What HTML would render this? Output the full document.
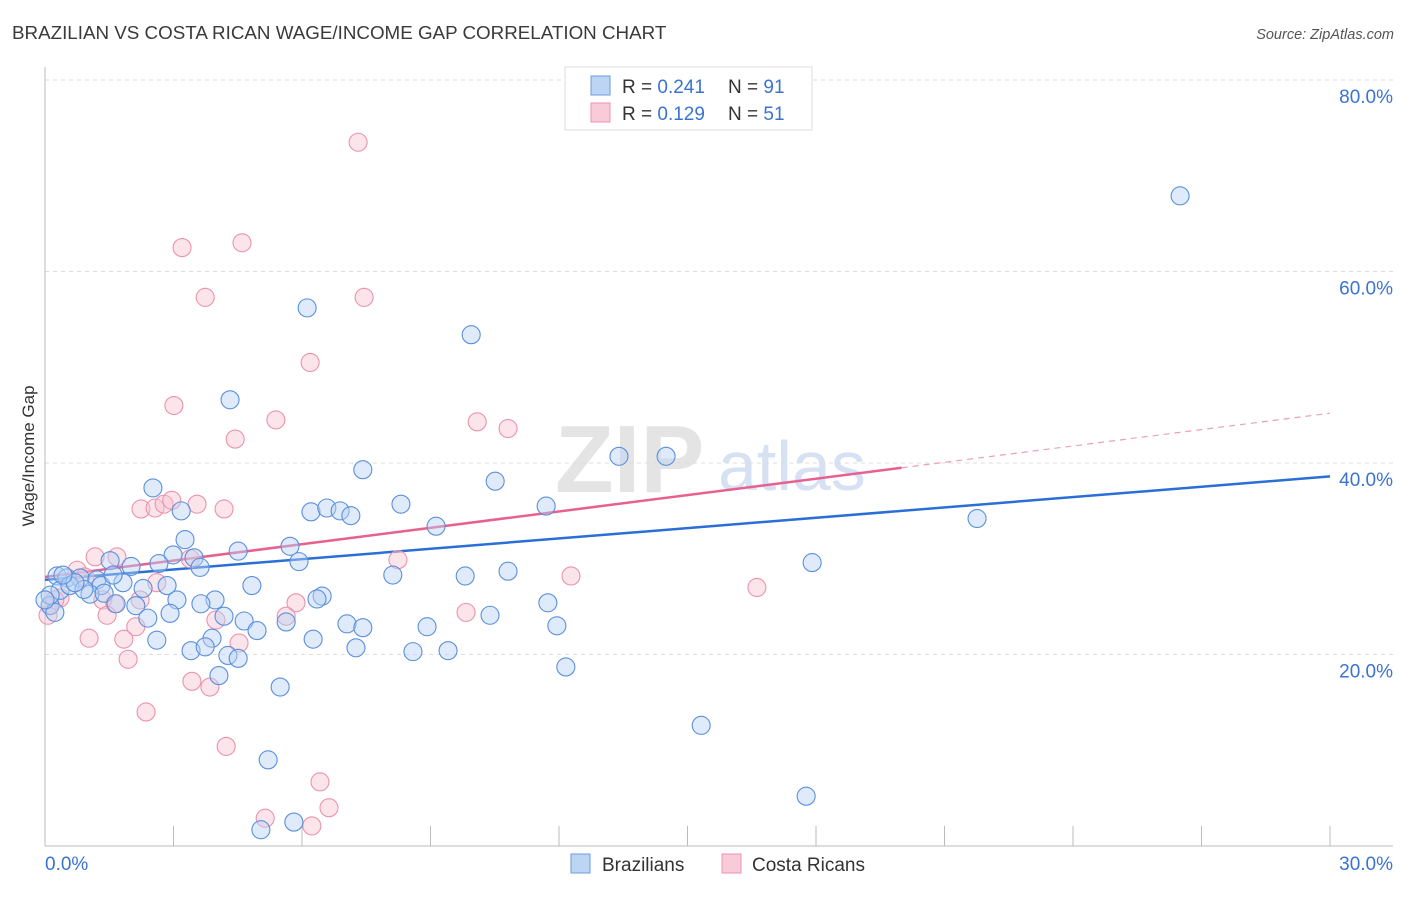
<!DOCTYPE html>
<html><head><meta charset="utf-8"><style>
body{margin:0;background:#fff;font-family:"Liberation Sans",sans-serif;}
svg text{font-family:"Liberation Sans",sans-serif;}
</style></head><body>
<svg id="chart" width="1406" height="892" viewBox="0 0 1406 892" xmlns="http://www.w3.org/2000/svg">
<text x="12" y="39" font-size="18.8" fill="#3a3a3a">BRAZILIAN VS COSTA RICAN WAGE/INCOME GAP CORRELATION CHART</text>
<text x="1394" y="39" font-size="14.5" fill="#555" font-style="italic" text-anchor="end">Source: ZipAtlas.com</text>
<g>
<text x="555" y="492" font-size="96" font-family="Liberation Serif,serif" fill="#e4e4e4" font-weight="bold">ZIP</text>
<text x="718" y="490" font-size="70" fill="#d6e2f3">atlas</text>
</g>
<g id="grid"></g>
<g id="axes"></g>
<g id="trends"></g>
<g id="pts"></g>
<text transform="translate(34,456) rotate(-90)" font-size="17" fill="#333" text-anchor="middle">Wage/Income Gap</text>
<g>
<rect x="565" y="67" width="247" height="63" fill="#fff" stroke="#ddd"/>
<rect x="591" y="76" width="19" height="19" fill="#bdd5f5" stroke="#6c9be0"/>
<rect x="591" y="103" width="19" height="19" fill="#f9cad8" stroke="#eb93ae"/>
<text x="622" y="93" font-size="19" fill="#333">R = <tspan fill="#3b73d1">0.241</tspan></text>
<text x="728" y="93" font-size="19" fill="#333">N = <tspan fill="#3b73d1">91</tspan></text>
<text x="622" y="120" font-size="19" fill="#333">R = <tspan fill="#3b73d1">0.129</tspan></text>
<text x="728" y="120" font-size="19" fill="#333">N = <tspan fill="#3b73d1">51</tspan></text>
</g>
<g>
<rect x="571" y="854" width="19" height="19" fill="#bdd5f5" stroke="#6c9be0"/>
<text x="602" y="871" font-size="19" fill="#333">Brazilians</text>
<rect x="722" y="854" width="19" height="19" fill="#f9cad8" stroke="#eb93ae"/>
<text x="752" y="871" font-size="19" fill="#333">Costa Ricans</text>
</g>
</svg>
<script>
const xTicks=[0,3,6,9,12,15,18,21,24,27,30];
const yTicks=[20,40,60,80];
const yTickLabels=["20.0%","40.0%","60.0%","80.0%"];
const xLabels=["0.0%","30.0%"];
const blueX=[26.50,6.12,9.95,4.32,7.42,13.40,14.50,10.51,2.52,3.18,8.31,6.21,6.58,6.89,7.14,11.70,21.76,9.13,3.27,4.51,5.72,2.99,3.48,5.93,2.66,3.62,2.01,17.91,1.52,8.12,9.81,10.81,0.28,0.51,0.82,1.21,1.82,2.85,1.31,2.29,0.35,4.83,0.58,1.05,1.38,1.66,3.08,3.97,3.64,2.12,6.47,6.35,11.74,10.39,4.18,2.40,2.92,11.95,4.65,5.63,7.05,7.42,8.92,4.95,3.90,2.61,6.26,3.41,3.74,4.27,4.51,7.26,8.59,9.41,12.16,4.06,5.49,15.32,5.21,17.77,5.81,5.04,0.12,0.12,0.23,0,0.91,0.70,0.42,1.59];
const blueY=[67.9,56.2,53.4,46.6,39.3,40.7,40.7,38.1,37.4,35.0,35.7,34.9,35.3,35.0,34.5,35.5,34.2,33.4,32.0,30.8,31.3,30.4,30.1,29.7,29.5,29.1,29.2,29.6,29.8,28.3,28.2,28.7,28.2,28.0,28.0,27.8,27.5,27.2,27.2,26.9,26.7,27.2,27.2,26.3,26.4,25.3,25.7,25.7,25.3,25.1,26.1,25.8,25.4,24.1,24.0,23.8,24.3,23.0,23.5,23.4,23.2,22.8,22.9,22.5,21.7,21.5,21.6,20.4,20.8,19.9,19.6,20.7,20.3,20.4,18.7,17.8,16.6,12.6,9.0,5.2,2.5,1.7,25.1,26.2,24.4,25.7,26.8,27.5,28.3,28.3];
const pinkX=[7.31,4.60,3.20,3.74,7.45,6.19,3.01,5.39,4.44,10.09,10.81,2.24,2.57,2.78,2.96,3.55,4.18,1.17,1.68,3.39,0.75,0.93,2.61,8.24,12.28,16.62,1.35,1.63,1.45,3.99,5.86,5.63,9.83,1.03,1.84,4.53,2.12,1.94,3.43,3.85,2.36,4.23,6.42,6.63,5.14,6.23,0.12,0.07,0.35,0.23,2.22];
const pinkY=[73.5,63.0,62.5,57.3,57.3,50.5,46.0,44.5,42.5,44.3,43.6,35.2,35.3,35.7,36.1,35.7,35.2,30.2,30.2,30.0,28.8,28.1,27.5,29.9,28.2,27.0,25.7,25.3,24.1,23.6,25.4,24.0,24.4,21.7,21.6,21.2,22.9,19.5,17.2,16.6,14.0,10.4,6.7,4.0,2.9,2.1,25.2,24.1,25.9,25.7,25.7];
const blueTrend=[27.8,38.6];
const pinkTrend=[28.1,45.2];
const pinkSolidEnd=20;
const NS="http://www.w3.org/2000/svg";
const X=v=>45+v/30*1285, Y=v=>846-v*9.575;
function mk(t,a,p){const e=document.createElementNS(NS,t);for(const k in a)e.setAttribute(k,a[k]);p.appendChild(e);return e;}
const grid=document.getElementById('grid'),axes=document.getElementById('axes');
yTicks.forEach((t,i)=>{
 const l=mk('line',{x1:45,x2:1393,y1:Y(t),y2:Y(t),stroke:'#dcdcdc','stroke-dasharray':'4,4'},grid);
 
 
 const tx=mk('text',{x:1393,y:Y(t)+23,'font-size':19,fill:'#3b73d1','text-anchor':'end'},axes);
 tx.textContent=yTickLabels[i];
 
 
});
const ax=mk('line',{x1:45,x2:45,y1:67,y2:846,stroke:'#bbb'},axes);


const bx=mk('line',{x1:45,x2:1393,y1:846,y2:846,stroke:'#bbb'},axes);


xTicks.forEach(t=>{const l=mk('line',{x1:X(t),x2:X(t),y1:826,y2:846,stroke:'#bbb'},axes);
 
 });
const xl0=mk('text',{x:45,y:870,'font-size':19,fill:'#3b73d1'},axes);xl0.textContent=xLabels[0];


const xl1=mk('text',{x:1393,y:870,'font-size':19,fill:'#3b73d1','text-anchor':'end'},axes);xl1.textContent=xLabels[1];


const pts=document.getElementById('pts');
function dots(xs,ys,fill,stroke,name){xs.forEach((x,i)=>{const c=mk('circle',{cx:X(x),cy:Y(ys[i]),r:9,fill:fill,'fill-opacity':0.45,stroke:stroke,'stroke-width':1.1},pts);
 
 });}
dots(pinkX,pinkY,'#f9c3d3','#eb93ae','costa-rican-point');
dots(blueX,blueY,'#b9d2f4','#5b8fdc','brazilian-point');
const tr=document.getElementById('trends');
const pm=(pinkTrend[1]-pinkTrend[0])/30;
const t1=mk('line',{x1:X(0),y1:Y(blueTrend[0]),x2:X(30),y2:Y(blueTrend[1]),stroke:'#2a6fd6','stroke-width':2.5},tr);


const t2=mk('line',{x1:X(0),y1:Y(pinkTrend[0]),x2:X(pinkSolidEnd),y2:Y(pinkTrend[0]+pm*pinkSolidEnd),stroke:'#e8608f','stroke-width':2.5},tr);


const t3=mk('line',{x1:X(pinkSolidEnd),y1:Y(pinkTrend[0]+pm*pinkSolidEnd),x2:X(30),y2:Y(pinkTrend[1]),stroke:'#e8a0b8','stroke-width':1.2,'stroke-dasharray':'6,5'},tr);


</script>
</body></html>
